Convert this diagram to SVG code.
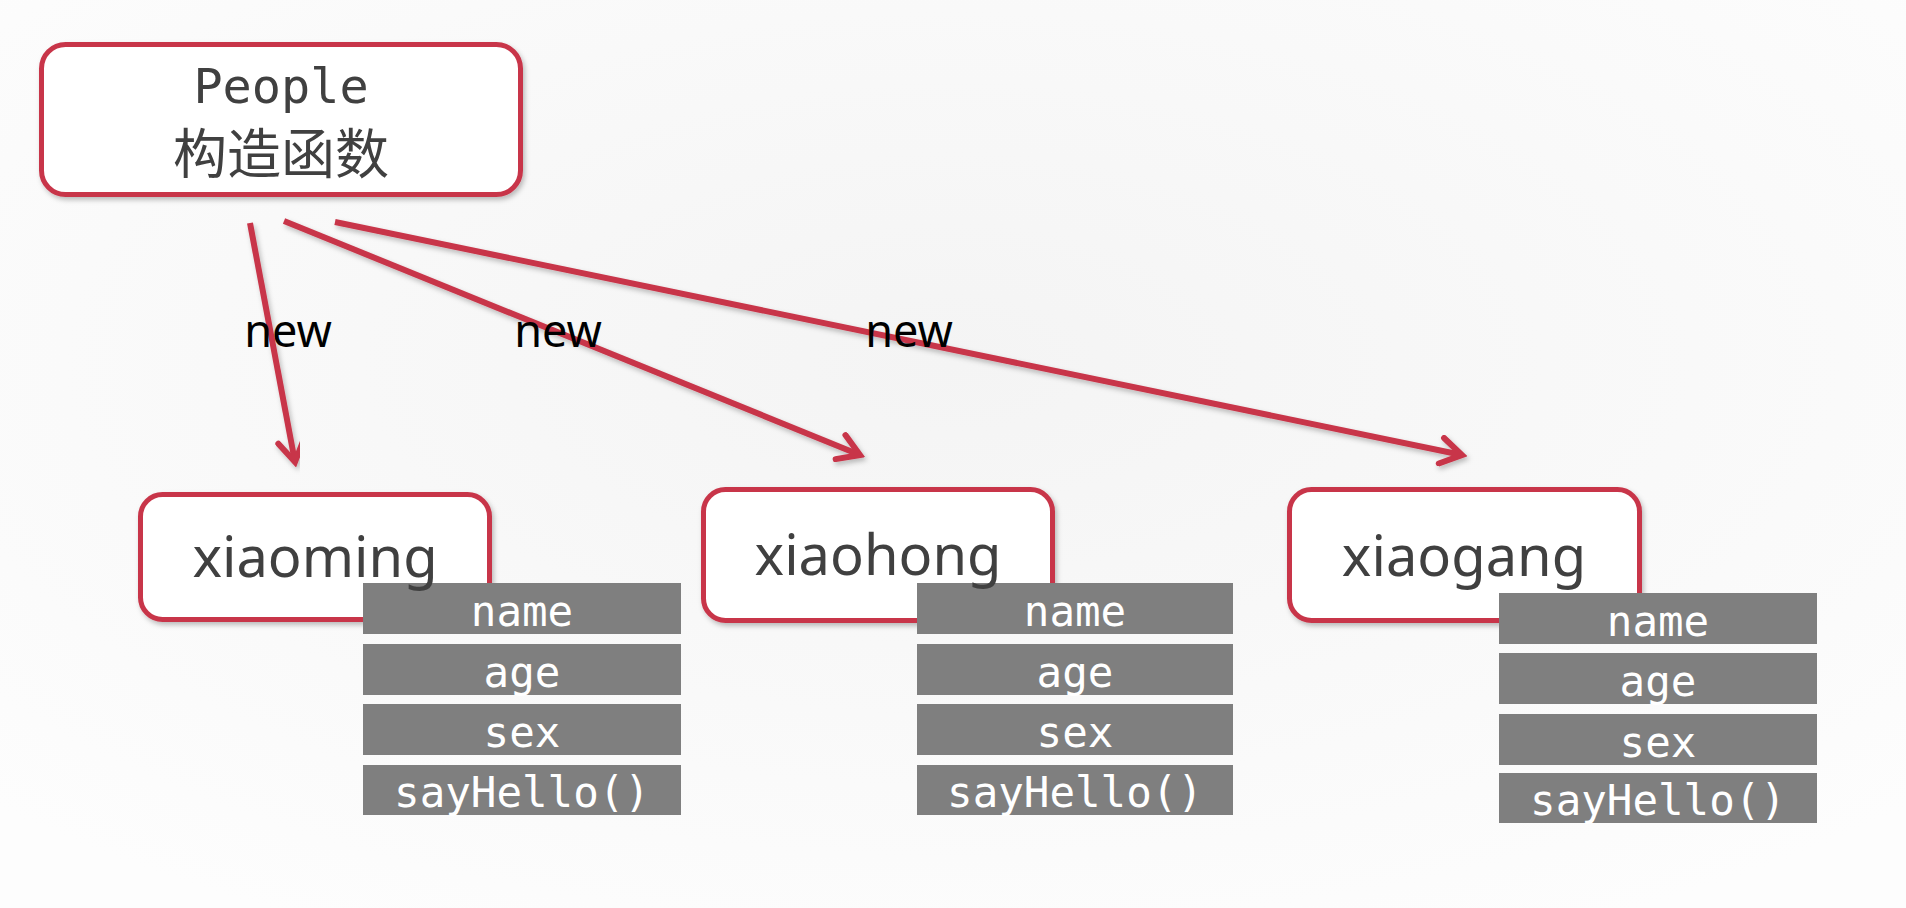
<svg xmlns="http://www.w3.org/2000/svg" width="1906" height="908" viewBox="0 0 1906 908">
  <defs>
    <style>
      .box { fill: #ffffff; stroke: #C8364A; stroke-width: 5; filter: url(#shadow); }
      .row { fill: #7F7F7F; }
      .rowtxt { font-family: "DejaVu Sans Mono", "Liberation Mono", monospace; font-size: 42.5px; fill: #ffffff; text-anchor: middle; }
      .name { font-family: "Noto Sans", "Open Sans", sans-serif; font-size: 56px; fill: #404040; text-anchor: middle; }
      .mono { font-family: "DejaVu Sans Mono", "Liberation Mono", monospace; font-size: 48.5px; fill: #404040; text-anchor: middle; }
      .cjk { font-family: "Noto Sans CJK SC", "Noto Sans", sans-serif; font-size: 54px; fill: #404040; text-anchor: middle; }
      .lbl { font-family: "Noto Sans", "Open Sans", sans-serif; font-size: 45px; fill: #000000; text-anchor: middle; }
      .conn { stroke: #C8364A; stroke-width: 6; fill: none; marker-end: url(#arrow); filter: url(#shadow); }
    </style>
    <filter id="shadow" x="-10%" y="-10%" width="120%" height="130%">
      <feDropShadow dx="2" dy="3" stdDeviation="2.5" flood-color="#000000" flood-opacity="0.25"/>
    </filter>
    <marker id="arrow" viewBox="0 0 32 32" markerWidth="32" markerHeight="32" refX="27" refY="16" orient="auto" markerUnits="userSpaceOnUse">
      <path d="M6,3 L27,16 L6,29" fill="none" stroke="#C8364A" stroke-width="6" stroke-linecap="round" stroke-linejoin="miter"/>
    </marker>
    <radialGradient id="bg" cx="50%" cy="40%" r="70%">
      <stop offset="0" stop-color="#F4F4F4"/>
      <stop offset="1" stop-color="#FDFDFD"/>
    </radialGradient>
  </defs>

  <rect x="0" y="0" width="1906" height="908" fill="url(#bg)"/>

  <g id="connectors">
    <line class="conn" x1="250" y1="223" x2="295" y2="462"/>
    <line class="conn" x1="284" y1="221" x2="860" y2="455"/>
    <line class="conn" x1="335" y1="222" x2="1462" y2="455"/>
    <text class="lbl" x="288" y="347">new</text>
    <text class="lbl" x="558" y="347">new</text>
    <text class="lbl" x="909" y="347">new</text>
  </g>

  <g id="people">
    <rect class="box" x="41.5" y="44.5" width="479" height="150" rx="24"/>
    <text class="mono" x="281" y="103">People</text>
    <text class="cjk" x="281" y="174">构造函数</text>
  </g>

  <g id="xiaoming">
    <rect class="box" x="140.5" y="494.5" width="349" height="125" rx="22"/>
    <rect class="row" x="363" y="583" width="318" height="51"/>
    <rect class="row" x="363" y="644" width="318" height="51"/>
    <rect class="row" x="363" y="704" width="318" height="51"/>
    <rect class="row" x="363" y="765" width="318" height="50"/>
    <text class="rowtxt" x="522" y="626">name</text>
    <text class="rowtxt" x="522" y="687">age</text>
    <text class="rowtxt" x="522" y="747">sex</text>
    <text class="rowtxt" x="522" y="807">sayHello()</text>
    <text class="name" x="315" y="577">xiaoming</text>
  </g>

  <g id="xiaohong">
    <rect class="box" x="703.5" y="489.5" width="349" height="131" rx="22"/>
    <rect class="row" x="917" y="583" width="316" height="51"/>
    <rect class="row" x="917" y="644" width="316" height="51"/>
    <rect class="row" x="917" y="704" width="316" height="51"/>
    <rect class="row" x="917" y="765" width="316" height="50"/>
    <text class="rowtxt" x="1075" y="626">name</text>
    <text class="rowtxt" x="1075" y="687">age</text>
    <text class="rowtxt" x="1075" y="747">sex</text>
    <text class="rowtxt" x="1075" y="807">sayHello()</text>
    <text class="name" x="878" y="575">xiaohong</text>
  </g>

  <g id="xiaogang">
    <rect class="box" x="1289.5" y="489.5" width="350" height="131" rx="22"/>
    <rect class="row" x="1499" y="593" width="318" height="51"/>
    <rect class="row" x="1499" y="653" width="318" height="51"/>
    <rect class="row" x="1499" y="714" width="318" height="51"/>
    <rect class="row" x="1499" y="773" width="318" height="50"/>
    <text class="rowtxt" x="1658" y="636">name</text>
    <text class="rowtxt" x="1658" y="696">age</text>
    <text class="rowtxt" x="1658" y="757">sex</text>
    <text class="rowtxt" x="1658" y="815">sayHello()</text>
    <text class="name" x="1464" y="576">xiaogang</text>
  </g>
</svg>
